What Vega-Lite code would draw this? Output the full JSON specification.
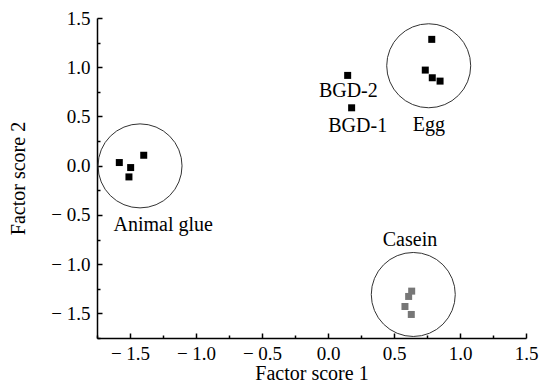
{
  "$schema": "https://vega.github.io/schema/vega-lite/v6.json",
  "width": 429,
  "height": 320,
  "autosize": "none",
  "padding": {"left": 97, "top": 18, "right": 16, "bottom": 47},
  "background": "white",
  "config": {
    "view": {"stroke": null},
    "axis": {
      "grid": false,
      "domainColor": "black",
      "domainWidth": 1.5,
      "tickColor": "black",
      "tickWidth": 1.5,
      "labelFont": "Liberation Serif",
      "labelFontSize": 19,
      "labelColor": "black",
      "titleFont": "Liberation Serif",
      "titleFontSize": 20,
      "titleFontWeight": "normal",
      "titleColor": "black"
    }
  },
  "datasets": {
    "pts": [
      {"group": "Animal glue", "x": -1.581, "y": 0.032},
      {"group": "Animal glue", "x": -1.495, "y": -0.019},
      {"group": "Animal glue", "x": -1.508, "y": -0.114},
      {"group": "Animal glue", "x": -1.396, "y": 0.106},
      {"group": "Egg", "x": 0.786, "y": 1.283},
      {"group": "Egg", "x": 0.737, "y": 0.971},
      {"group": "Egg", "x": 0.79, "y": 0.893},
      {"group": "Egg", "x": 0.849, "y": 0.859},
      {"group": "BGD-2", "x": 0.149, "y": 0.917},
      {"group": "BGD-1", "x": 0.179, "y": 0.588},
      {"group": "Casein", "x": 0.634, "y": -1.274},
      {"group": "Casein", "x": 0.611, "y": -1.328},
      {"group": "Casein", "x": 0.583, "y": -1.43},
      {"group": "Casein", "x": 0.631, "y": -1.511}
    ],
    "rings": [
      {"group": "Animal glue", "x": -1.424, "y": -0.002},
      {"group": "Egg", "x": 0.763, "y": 1.015},
      {"group": "Casein", "x": 0.646, "y": -1.308}
    ],
    "labels": [
      {"text": "BGD-2", "x": 0.154, "y": 0.757},
      {"text": "BGD-1", "x": 0.225, "y": 0.401},
      {"text": "Egg", "x": 0.765, "y": 0.411},
      {"text": "Casein", "x": 0.621, "y": -0.751},
      {"text": "Animal glue", "x": -1.248, "y": -0.606}
    ]
  },
  "encoding": {
    "x": {
      "field": "x", "type": "quantitative",
      "scale": {"domain": [-1.75, 1.5], "nice": false, "zero": false},
      "axis": {
        "title": "Factor score 1",
        "values": [-1.75, -1.5, -1.25, -1.0, -0.75, -0.5, -0.25, 0, 0.25, 0.5, 0.75, 1.0, 1.25, 1.5],
        "labelExpr": "abs((datum.value*2) % 1) > 0.01 ? '' : (datum.value < 0 ? '− ' : '') + format(abs(datum.value), '.1f')",
        "tickSize": {"condition": {"test": "abs((datum.value*2) % 1) > 0.01", "value": -3}, "value": -5},
        "labelPadding": 11,
        "titlePadding": -2,
        "labelFlush": false,
        "labelOverlap": false
      }
    },
    "y": {
      "field": "y", "type": "quantitative",
      "scale": {"domain": [-1.75, 1.5], "nice": false, "zero": false},
      "axis": {
        "title": "Factor score 2",
        "values": [-1.75, -1.5, -1.25, -1.0, -0.75, -0.5, -0.25, 0, 0.25, 0.5, 0.75, 1.0, 1.25, 1.5],
        "labelExpr": "abs((datum.value*2) % 1) > 0.01 ? '' : (datum.value < 0 ? '− ' : '') + format(abs(datum.value), '.1f')",
        "tickSize": {"condition": {"test": "abs((datum.value*2) % 1) > 0.01", "value": -3}, "value": -5},
        "labelPadding": 12,
        "titlePadding": 22,
        "labelFlush": false,
        "labelOverlap": false
      }
    }
  },
  "layer": [
    {
      "data": {"name": "rings"},
      "mark": {"type": "point", "shape": "circle", "filled": false, "size": 7056, "stroke": "#333", "strokeWidth": 1, "opacity": 1}
    },
    {
      "data": {"name": "pts"},
      "mark": {"type": "point", "shape": "square", "filled": true, "size": 49, "opacity": 1},
      "encoding": {
        "color": {
          "field": "group", "type": "nominal", "legend": null,
          "scale": {"domain": ["Animal glue", "Egg", "BGD-2", "BGD-1", "Casein"], "range": ["black", "black", "black", "black", "#777777"]}
        }
      }
    },
    {
      "data": {"name": "labels"},
      "mark": {"type": "text", "font": "Liberation Serif", "fontSize": 20, "color": "black", "align": "center", "baseline": "middle"},
      "encoding": {"text": {"field": "text", "type": "nominal"}}
    }
  ]
}
